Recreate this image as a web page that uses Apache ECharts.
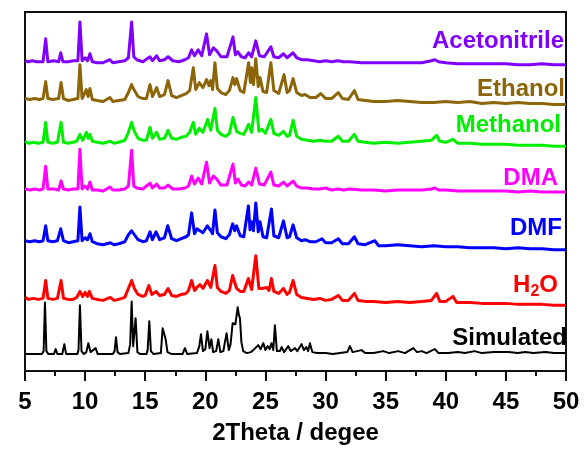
<!DOCTYPE html>
<html>
<head>
<meta charset="utf-8">
<script src="https://cdn.jsdelivr.net/npm/echarts@6/dist/echarts.min.js"></script>
<style>html,body{margin:0;padding:0;background:#fff}#chart{width:584px;height:450px}</style>
</head>
<body>
<div id="chart"></div>
<script>
// Tick labels of the 2Theta axis
var xTicks = [5, 10, 15, 20, 25, 30, 35, 40, 45, 50];
var seriesNames = ['Acetonitrile', 'Ethanol', 'Methanol', 'DMA', 'DMF', 'H2O', 'Simulated'];
// vertical stacking offsets (intensity units)
var offsets = [308, 268, 226, 180, 122, 66, 17];

// [2theta, intensity]
var acetonitrile = [[5.0,4],[5.3,3],[5.6,4],[6.0,3],[6.5,3],[6.72,26],[6.9,3],[7.4,4],[7.8,3],[7.97,12],[8.15,3],[8.6,3],[9.0,4],[9.4,4],[9.57,43],[9.75,4],[10.0,7],[10.2,4],[10.4,11],[10.6,3],[11.0,2],[11.5,2],[12.07,5],[12.3,2],[12.8,3],[13.3,4],[13.6,7],[13.87,43],[14.05,8],[14.3,5],[14.8,3],[15.4,8],[15.6,4],[15.95,9],[16.2,4],[16.6,5],[16.9,8],[17.3,4],[17.8,3],[18.3,5],[18.6,7],[18.86,15],[19.1,9],[19.4,15],[19.7,9],[20.1,31],[20.35,10],[20.67,17],[20.95,14],[21.3,8],[21.8,8],[22.3,28],[22.5,10],[22.7,13],[23.0,8],[23.3,7],[23.6,12],[23.85,8],[24.2,24],[24.5,9],[24.9,8],[25.45,18],[25.7,8],[26.1,7],[26.5,11],[26.8,7],[27.3,12],[27.6,7],[28.0,5],[28.5,5],[29.0,4],[29.5,3],[30.0,4],[30.5,3],[31.0,4],[31.5,3],[32.0,3],[33.0,2],[34.0,2],[35.0,2],[36.0,2],[37.0,2],[38.0,2],[38.8,4],[39.1,5],[39.4,3],[40.0,2],[41,1],[42,1],[43,1],[44,1],[45,1],[46,0],[47,0],[48,1],[49,0],[50,0]];
var ethanol = [[5.0,6],[5.4,5],[5.8,6],[6.2,5],[6.5,6],[6.72,23],[6.9,6],[7.3,5],[7.8,6],[8.0,22],[8.2,6],[8.6,4],[9.0,5],[9.4,6],[9.57,40],[9.75,6],[10.1,15],[10.25,8],[10.4,16],[10.6,5],[11.0,4],[11.5,3],[12.07,7],[12.3,3],[12.8,4],[13.3,5],[13.6,12],[13.87,20],[14.1,14],[14.4,8],[14.8,6],[15.1,6],[15.4,20],[15.6,8],[15.95,17],[16.2,8],[16.6,10],[16.9,24],[17.2,9],[17.6,7],[18.0,9],[18.4,11],[18.7,14],[19.0,37],[19.2,15],[19.5,22],[19.8,17],[20.1,25],[20.3,19],[20.45,24],[20.6,15],[20.8,42],[21.0,16],[21.3,12],[21.7,10],[22.0,14],[22.3,27],[22.45,20],[22.6,26],[22.9,14],[23.2,12],[23.6,42],[23.75,22],[23.85,37],[24.0,20],[24.2,46],[24.4,18],[24.55,27],[24.8,13],[25.1,12],[25.45,42],[25.7,14],[26.1,11],[26.55,30],[26.8,12],[27.0,14],[27.3,26],[27.6,12],[28.0,9],[28.3,10],[28.7,7],[29.2,7],[29.6,11],[30.0,6],[30.5,6],[31.06,12],[31.4,6],[31.9,5],[32.4,14],[32.7,5],[33.3,4],[34.0,3],[35,3],[36,4],[37,3],[38,2],[39,2],[40,3],[41,2],[42,3],[43,1],[44,2],[45,1],[46,2],[47,1],[48,1],[49,0],[50,0]];
var methanol = [[5.0,5],[5.3,3],[5.7,4],[6.1,3],[6.5,4],[6.72,24],[6.9,4],[7.3,3],[7.7,4],[8.0,24],[8.2,4],[8.6,3],[9.0,4],[9.3,5],[9.57,12],[9.8,6],[10.1,14],[10.25,8],[10.4,12],[10.6,5],[11.0,4],[11.5,3],[12.07,5],[12.4,3],[12.8,4],[13.3,6],[13.6,14],[13.87,24],[14.1,15],[14.4,8],[14.8,6],[15.1,6],[15.4,19],[15.6,8],[15.95,14],[16.2,7],[16.6,8],[16.9,16],[17.2,8],[17.6,7],[18.0,9],[18.4,10],[18.7,14],[19.0,24],[19.2,12],[19.5,18],[19.8,14],[20.2,27],[20.45,16],[20.8,38],[21.0,16],[21.3,12],[21.7,10],[22.0,13],[22.3,29],[22.6,15],[22.9,13],[23.2,12],[23.6,22],[23.85,14],[24.2,49],[24.45,15],[24.7,17],[25.0,13],[25.1,15],[25.45,27],[25.7,13],[26.1,11],[26.5,15],[26.8,10],[27.0,11],[27.3,26],[27.6,10],[28.0,7],[28.5,6],[29.0,5],[29.5,6],[30.0,5],[30.5,5],[31.06,10],[31.4,5],[31.9,5],[32.4,12],[32.7,5],[33.3,4],[34,3],[35,4],[36,3],[37,4],[38,5],[38.8,6],[39.24,11],[39.5,5],[40.0,4],[40.6,7],[41,3],[42,3],[43,2],[44,2],[45,2],[46,1],[47,1],[48,1],[49,0],[50,0]];
var dma = [[5.0,3],[5.4,2],[5.8,3],[6.2,2],[6.5,3],[6.72,26],[6.9,3],[7.4,3],[7.8,2],[8.0,11],[8.2,3],[8.6,2],[9.0,3],[9.4,3],[9.57,43],[9.75,3],[10.0,6],[10.2,3],[10.4,10],[10.6,2],[11.0,2],[11.5,1],[12.07,5],[12.3,2],[12.8,2],[13.3,3],[13.6,6],[13.87,42],[14.05,6],[14.3,4],[14.8,3],[15.4,9],[15.6,4],[15.95,8],[16.2,4],[16.6,4],[16.9,7],[17.3,3],[17.8,3],[18.3,4],[18.6,6],[18.86,16],[19.1,8],[19.4,14],[19.7,8],[20.1,30],[20.35,9],[20.67,16],[20.95,13],[21.3,7],[21.8,7],[22.3,28],[22.5,9],[22.7,13],[23.0,7],[23.3,6],[23.6,10],[23.85,7],[24.2,24],[24.5,8],[24.9,7],[25.45,20],[25.7,7],[26.1,6],[26.5,10],[26.8,6],[27.3,11],[27.6,6],[28.0,4],[28.5,4],[29.0,3],[29.5,3],[30.0,4],[30.5,2],[31.0,3],[31.5,2],[32.0,3],[33.0,2],[34.0,2],[35.0,1],[36.0,2],[37.0,2],[38.0,2],[38.8,3],[39.1,4],[39.4,2],[40.0,2],[41,1],[42,1],[43,1],[44,1],[45,1],[46,0],[47,1],[48,0],[49,0],[50,0]];
var dmf = [[5.0,9],[5.4,8],[5.8,9],[6.2,8],[6.5,9],[6.72,24],[6.9,9],[7.3,8],[7.7,9],[7.97,21],[8.2,9],[8.6,7],[9.0,8],[9.4,9],[9.57,43],[9.75,9],[10.0,12],[10.2,10],[10.4,16],[10.6,8],[11.0,6],[11.5,5],[12.1,7],[12.4,5],[12.8,6],[13.3,8],[13.6,15],[13.87,19],[14.1,15],[14.4,10],[14.8,8],[15.1,9],[15.4,18],[15.6,10],[15.9,18],[16.2,10],[16.6,12],[16.87,24],[17.2,11],[17.6,9],[18.0,11],[18.4,13],[18.6,15],[18.86,37],[19.1,16],[19.3,21],[19.55,19],[19.8,17],[20.17,24],[20.4,20],[20.6,16],[20.8,40],[21.0,17],[21.3,13],[21.7,11],[22.0,15],[22.27,26],[22.45,19],[22.6,24],[22.9,14],[23.2,13],[23.58,44],[23.72,20],[23.85,28],[24.0,19],[24.2,47],[24.4,18],[24.55,28],[24.8,13],[25.1,12],[25.5,41],[25.7,14],[26.1,12],[26.5,29],[26.8,12],[27.0,13],[27.3,25],[27.6,12],[28.0,9],[28.3,10],[28.7,8],[29.2,8],[29.7,11],[30.0,7],[30.5,7],[31.06,11],[31.4,6],[31.9,6],[32.4,13],[32.7,6],[33.3,5],[34.1,9],[34.4,4],[35,4],[36,5],[37,4],[38,3],[39,4],[40,3],[41,3],[42,2],[43,2],[44,2],[45,1],[46,2],[47,1],[48,1],[49,0],[50,0]];
var h2o = [[5.0,8],[5.3,6],[5.7,7],[6.1,6],[6.5,7],[6.72,25],[6.9,7],[7.3,6],[7.7,7],[8.0,25],[8.2,7],[8.6,6],[9.0,6],[9.3,8],[9.57,14],[9.8,9],[10.0,13],[10.2,9],[10.35,14],[10.6,7],[11.0,6],[11.5,5],[12.1,8],[12.4,5],[12.8,6],[13.3,8],[13.6,17],[13.87,25],[14.1,17],[14.4,11],[14.8,9],[15.0,10],[15.3,20],[15.55,11],[15.9,14],[16.2,10],[16.6,11],[16.9,17],[17.2,10],[17.6,9],[18.0,11],[18.4,12],[18.6,15],[18.86,25],[19.1,15],[19.3,18],[19.55,21],[19.8,17],[20.17,25],[20.45,18],[20.8,40],[21.0,18],[21.3,14],[21.7,12],[22.0,15],[22.27,30],[22.6,17],[22.9,14],[23.2,14],[23.58,27],[23.85,16],[24.2,50],[24.45,17],[24.7,17],[25.1,18],[25.3,15],[25.5,27],[25.7,14],[26.1,12],[26.5,17],[26.8,11],[27.0,13],[27.3,25],[27.6,11],[28.0,8],[28.5,7],[29.0,6],[29.5,7],[30.0,5],[30.5,6],[31.06,10],[31.4,5],[31.9,5],[32.4,12],[32.7,5],[33.3,4],[34,4],[35,3],[36,4],[37,3],[38,4],[38.8,5],[39.24,12],[39.5,4],[40.0,4],[40.6,9],[40.9,3],[42,3],[43,2],[44,2],[45,2],[46,1],[47,1],[48,1],[49,0],[50,0]];
var simulated = [[5.0,0],[6.4,0],[6.55,3],[6.66,52],[6.78,3],[6.95,0],[7.4,0],[7.55,5],[7.7,0],[8.1,0],[8.27,10],[8.42,0],[9.35,0],[9.45,4],[9.57,49],[9.7,3],[9.9,0],[10.1,2],[10.27,11],[10.45,2],[10.6,3],[10.88,6],[11.05,0],[12.3,0],[12.45,3],[12.57,17],[12.7,2],[12.9,0],[13.6,1],[13.75,10],[13.87,53],[14.0,8],[14.2,36],[14.35,2],[14.6,0],[15.1,0],[15.2,4],[15.34,33],[15.47,3],[15.7,0],[16.3,1],[16.45,26],[16.55,24],[16.7,15],[16.85,2],[17.2,0],[18.1,0],[18.3,6],[18.5,0],[19.3,1],[19.5,8],[19.64,20],[19.8,3],[20.0,5],[20.17,23],[20.35,6],[20.5,15],[20.65,2],[20.9,3],[21.08,15],[21.25,2],[21.5,3],[21.6,10],[21.77,21],[21.95,4],[22.1,10],[22.27,31],[22.4,33],[22.5,30],[22.69,47],[22.8,39],[22.88,36],[23.0,12],[23.15,3],[23.3,4],[23.45,1],[23.8,2],[24.07,5],[24.2,3],[24.4,9],[24.6,5],[24.82,11],[25.0,4],[25.18,8],[25.35,5],[25.5,11],[25.65,4],[25.79,29],[25.95,3],[26.2,3],[26.35,7],[26.55,2],[26.9,8],[27.1,3],[27.46,6],[27.65,3],[28.0,10],[28.2,4],[28.4,7],[28.55,3],[28.7,11],[28.9,2],[29.3,1],[30.0,1],[30.6,0],[31.2,1],[31.8,2],[32.03,8],[32.25,2],[33.0,4],[33.3,1],[34.0,1],[34.8,3],[35.3,1],[36.05,3],[36.6,1],[37.3,6],[37.6,2],[38.0,3],[38.4,1],[38.9,4],[39.1,5],[39.4,1],[40.2,1],[41.0,2],[41.6,1],[42.4,3],[43.0,1],[44.0,2],[45.2,2],[46.0,1],[46.6,2],[47.3,1],[48.3,2],[49.0,1],[50.0,1]];

var allData = [acetonitrile, ethanol, methanol, dma, dmf, h2o, simulated];
var colors = ['#7F00FF', '#8B6508', '#00EE00', '#FF00FF', '#0000FF', '#FF0000', '#000000'];
var widths = [3, 3, 3, 3, 3, 3, 2];

var chart = echarts.init(document.getElementById('chart'), null, {renderer: 'canvas'});
var FONT = '"Liberation Sans", Arial, sans-serif';

var series = allData.map(function (d, i) {
  return {
    name: seriesNames[i],
    type: 'line',
    showSymbol: false,
    symbol: 'none',
    silent: true,
    animation: false,
    lineStyle: {color: colors[i], width: widths[i], join: 'round'},
    data: d.map(function (p) { return [p[0], p[1] + offsets[i]]; })
  };
});

var labelPos = [
  {r: 564, y: 43}, {r: 565, y: 91}, {r: 561, y: 127}, {r: 558, y: 180},
  {r: 562, y: 230}, {r: 558, y: 287}, {r: 567, y: 340}
];
var graphics = seriesNames.map(function (n, i) {
  var txt = n === 'H2O' ? 'H{sub|2}O' : n;
  return {
    type: 'text',
    right: 584 - labelPos[i].r,
    top: labelPos[i].y - 14,
    silent: true,
    style: {
      text: txt,
      fill: colors[i],
      font: 'bold 24px ' + FONT,
      rich: {sub: {fontSize: 16, fontWeight: 'bold', fontFamily: FONT, fill: colors[i], padding: [14, 0, 0, 0]}}
    }
  };
});

chart.setOption({
  animation: false,
  backgroundColor: '#fff',
  grid: {left: 25, right: 18, top: 12, bottom: 77, show: true, borderColor: '#111', borderWidth: 2, backgroundColor: 'transparent'},
  xAxis: {
    type: 'value', min: 5, max: 50, interval: 5,
    name: '2Theta / degee', nameLocation: 'middle', nameGap: 50,
    nameTextStyle: {fontFamily: FONT, fontWeight: 'bold', fontSize: 24, color: '#000'},
    axisLine: {show: true, onZero: false, lineStyle: {color: '#111', width: 2}},
    axisTick: {show: true, inside: false, length: 10, lineStyle: {color: '#111', width: 2}},
    minorTick: {show: true, splitNumber: 2, length: 5, lineStyle: {color: '#111', width: 2}},
    splitLine: {show: false},
    axisLabel: {fontFamily: FONT, fontWeight: 'bold', fontSize: 24, color: '#000', margin: 19,
      formatter: function (v) { return xTicks.indexOf(v) >= 0 ? String(v) : ''; }}
  },
  yAxis: {type: 'value', min: 0, max: 361, show: false, splitLine: {show: false}},
  series: series,
  graphic: graphics
});
</script>
</body>
</html>
